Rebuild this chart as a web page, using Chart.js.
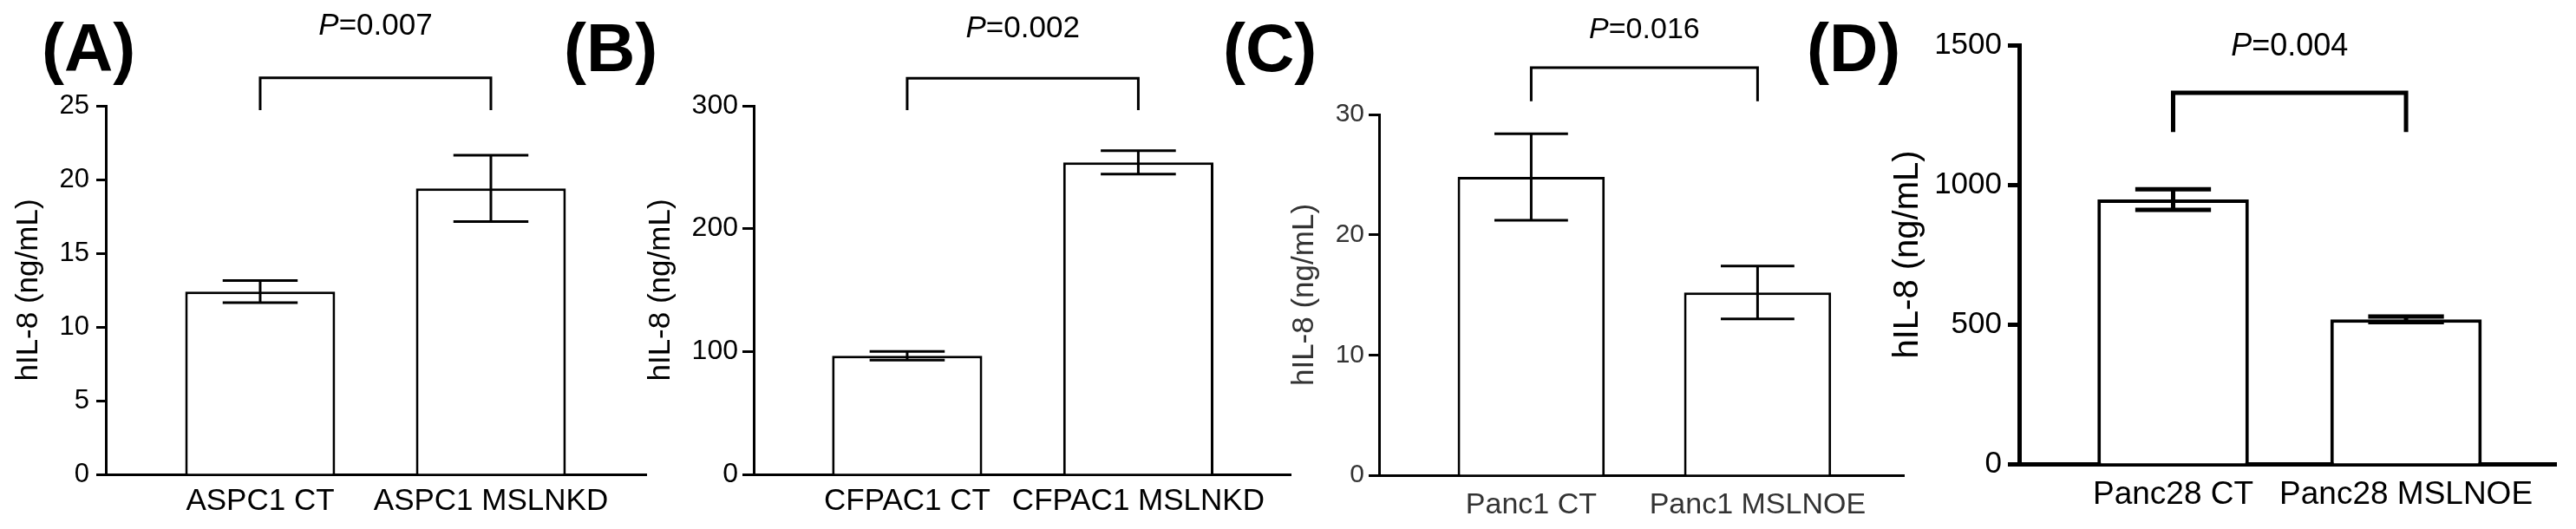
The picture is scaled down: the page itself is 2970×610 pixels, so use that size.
<!DOCTYPE html>
<html>
<head>
<meta charset="utf-8">
<script src="https://cdn.jsdelivr.net/npm/chart.js@4.4.1/dist/chart.umd.min.js"></script>
<style>
  html, body { margin: 0; padding: 0; background: #fff; }
  #wrap { position: relative; width: 2970px; height: 610px; }
  #wrap canvas { position: absolute; left: 0; top: 0; }
</style>
</head>
<body>
<div id="wrap">
  <canvas id="chartA" width="2970" height="610"></canvas>
  <canvas id="chartB" width="2970" height="610"></canvas>
  <canvas id="chartC" width="2970" height="610"></canvas>
  <canvas id="chartD" width="2970" height="610"></canvas>
</div>
<script>
// (A) ASPC1 knock-down
var labelsA = ['ASPC1 CT', 'ASPC1 MSLNKD'];
var meanA = [12.4, 19.4];
var errA = [0.75, 2.25];
var ticksA = [0, 5, 10, 15, 20, 25];
var pA = '0.007';

// (B) CFPAC1 knock-down
var labelsB = ['CFPAC1 CT', 'CFPAC1 MSLNKD'];
var meanB = [96.5, 254];
var errB = [3.5, 9.5];
var ticksB = [0, 100, 200, 300];
var pB = '0.002';

// (C) Panc1 over-expression
var labelsC = ['Panc1 CT', 'Panc1 MSLNOE'];
var meanC = [24.8, 15.2];
var errC = [3.6, 2.2];
var ticksC = [0, 10, 20, 30];
var pC = '0.016';

// (D) Panc28 over-expression
var labelsD = ['Panc28 CT', 'Panc28 MSLNOE'];
var meanD = [947, 518];
var errD = [37, 10];
var ticksD = [0, 500, 1000, 1500];
var pD = '0.004';

var yTitle = 'hIL-8 (ng/mL)';
var FONT = "'Liberation Sans', Arial, sans-serif";

// error bars, significance bracket, P value and panel letter
var sigBracket = {
  id: 'sigBracket',
  afterDatasetsDraw: function (chart, args, o) {
    var ctx = chart.ctx;
    var y = chart.scales.y;
    var bars = chart.getDatasetMeta(0).data;
    var vals = chart.data.datasets[0].data;
    ctx.save();
    ctx.strokeStyle = o.color;
    ctx.lineCap = 'butt';

    ctx.lineWidth = o.errWidth;
    o.err.forEach(function (e, i) {
      var b = bars[i];
      var m = vals[i].y;
      var top = y.getPixelForValue(m + e);
      var bot = y.getPixelForValue(m - e);
      var half = b.width / 4;
      ctx.beginPath();
      ctx.moveTo(b.x, top); ctx.lineTo(b.x, bot);
      ctx.moveTo(b.x - half, top); ctx.lineTo(b.x + half, top);
      ctx.moveTo(b.x - half, bot); ctx.lineTo(b.x + half, bot);
      ctx.stroke();
    });

    // bracket between the two bars
    var x1 = bars[0].x, x2 = bars[1].x;
    var yb = y.getPixelForValue(o.bracketY);
    var yl = y.getPixelForValue(o.legY);
    ctx.lineWidth = o.bracketWidth;
    ctx.lineJoin = 'miter';
    ctx.beginPath();
    ctx.moveTo(x1, yl); ctx.lineTo(x1, yb); ctx.lineTo(x2, yb); ctx.lineTo(x2, yl);
    ctx.stroke();

    // P=value, italic P
    ctx.fillStyle = o.color;
    ctx.textBaseline = 'middle';
    ctx.textAlign = 'left';
    var fi = 'italic ' + o.pSize + 'px ' + FONT;
    var fr = o.pSize + 'px ' + FONT;
    ctx.font = fi; var w1 = ctx.measureText('P').width;
    ctx.font = fr; var w2 = ctx.measureText('=' + o.p).width;
    var px = (x1 + x2) / 2 - (w1 + w2) / 2;
    var py = y.getPixelForValue(o.pY);
    ctx.font = fi; ctx.fillText('P', px, py);
    ctx.font = fr; ctx.fillText('=' + o.p, px + w1, py);

    // panel letter
    ctx.fillStyle = '#000';
    ctx.font = 'bold 78px ' + FONT;
    ctx.fillText(o.letter, o.letterX, 60);
    ctx.restore();
  }
};

function makePanel(id, labels, means, errs, ticks, p, g) {
  var data = means.map(function (v, i) { return { x: i + 1, y: v }; });
  return new Chart(document.getElementById(id).getContext('2d'), {
    type: 'bar',
    data: {
      datasets: [{
        data: data,
        backgroundColor: '#fff',
        borderColor: g.color,
        borderWidth: g.barBorder,
        categoryPercentage: 1,
        barPercentage: 0.65
      }]
    },
    options: {
      responsive: false,
      animation: false,
      devicePixelRatio: 1,
      layout: { padding: { left: g.padLeft, top: g.top, right: 2970 - g.right, bottom: 0 } },
      plugins: {
        legend: { display: false },
        tooltip: { enabled: false },
        sigBracket: {
          err: errs, p: p, color: g.color, errWidth: g.errWidth, bracketWidth: g.errWidth,
          bracketY: g.bracketY, legY: g.legY, pY: g.pY, pSize: g.pSize,
          letter: g.letter, letterX: g.letterX
        }
      },
      scales: {
        x: {
          type: 'linear',
          offset: false,
          min: g.xmin,
          max: g.xmax,
          afterFit: function (s) { s.height = 610 - g.bottom; },
          afterBuildTicks: function (s) { s.ticks = [{ value: 1 }, { value: 2 }]; },
          grid: { display: false, drawTicks: false },
          border: { display: true, color: g.color, width: g.axisWidth },
          ticks: {
            autoSkip: false, minRotation: 0, maxRotation: 0,
            padding: g.xPad, color: g.textColor,
            font: { family: FONT, size: g.catSize },
            callback: function (v) { return labels[v - 1]; }
          }
        },
        y: {
          min: 0,
          max: ticks[ticks.length - 1],
          afterFit: function (s) { s.width = g.axisX - g.padLeft; },
          afterBuildTicks: function (s) { s.ticks = ticks.map(function (v) { return { value: v }; }); },
          grid: {
            display: true, drawOnChartArea: false, drawTicks: true,
            tickLength: g.tickLen, tickWidth: g.axisWidth, tickColor: g.color
          },
          border: { display: true, color: g.color, width: g.axisWidth },
          ticks: {
            padding: g.yPad, color: g.textColor, font: { family: FONT, size: g.tickSize },
            callback: function (v) { return String(v); }
          },
          title: {
            display: true, text: yTitle, color: g.textColor,
            padding: 0, font: { family: FONT, size: g.titleSize }
          }
        }
      }
    },
    plugins: [sigBracket]
  });
}

makePanel('chartA', labelsA, meanA, errA, ticksA, pA, {
  letter: '(A)', letterX: 48, padLeft: 12, axisX: 122, top: 122, bottom: 547, right: 745,
  xmin: 0.331, xmax: 2.673, color: '#000', textColor: '#000',
  barBorder: 3, errWidth: 3, axisWidth: 3, tickLen: 11, yPad: 8, xPad: 10,
  tickSize: 31, catSize: 35, titleSize: 35, pSize: 35,
  bracketY: 26.9, legY: 24.7, pY: 30.4
});

makePanel('chartB', labelsB, meanB, errB, ticksB, pB, {
  letter: '(B)', letterX: 650, padLeft: 741, axisX: 869, top: 122, bottom: 547, right: 1488,
  xmin: 0.336, xmax: 2.659, color: '#000', textColor: '#000',
  barBorder: 3, errWidth: 3, axisWidth: 3, tickLen: 13, yPad: 5, xPad: 10,
  tickSize: 32, catSize: 35, titleSize: 35, pSize: 35,
  bracketY: 322.5, legY: 296.4, pY: 362.7
});

makePanel('chartC', labelsC, meanC, errC, ticksC, pC, {
  letter: '(C)', letterX: 1410, padLeft: 1483, axisX: 1590, top: 132, bottom: 548, right: 2195,
  xmin: 0.328, xmax: 2.646, color: '#000', textColor: '#333',
  barBorder: 3, errWidth: 3, axisWidth: 3, tickLen: 12, yPad: 5, xPad: 14,
  tickSize: 30, catSize: 34, titleSize: 35, pSize: 34,
  bracketY: 33.9, legY: 31.1, pY: 37.0
});

makePanel('chartD', labelsD, meanD, errD, ticksD, pD, {
  letter: '(D)', letterX: 2083, padLeft: 2176, axisX: 2328, top: 52, bottom: 535, right: 2947,
  xmin: 0.339, xmax: 2.644, color: '#000', textColor: '#000',
  barBorder: 4, errWidth: 5, axisWidth: 5, tickLen: 13, yPad: 7, xPad: 14,
  tickSize: 35, catSize: 37, titleSize: 40, pSize: 36,
  bracketY: 1329, legY: 1189, pY: 1495
});
</script>
</body>
</html>
